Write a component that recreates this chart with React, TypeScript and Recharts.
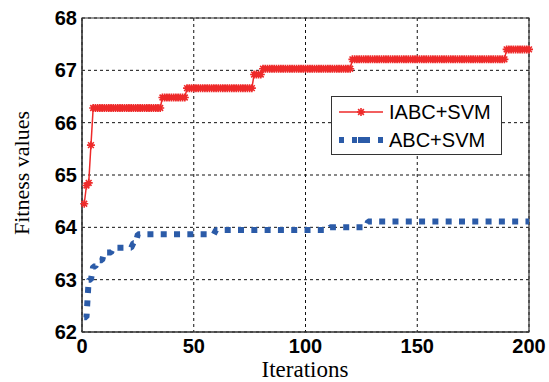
import React from 'react';
import { LineChart, Line, XAxis, YAxis, CartesianGrid, ReferenceArea, Legend, Label } from 'recharts';

const xTicks = [0, 50, 100, 150, 200];
const yTicks = [62, 63, 64, 65, 66, 67, 68];
const maxIter = 200;

// fitness levels: each value holds from the listed iteration on
const iabcSteps = [1, 2, 3, 4, 5, 36, 47, 77, 81, 121, 190];
const iabcValues = [64.45, 64.8, 64.85, 65.57, 66.28, 66.48, 66.66, 66.92, 67.03, 67.21, 67.4];

const abcSteps = [1, 3, 5, 7, 10, 14, 23, 25, 60, 111, 128];
const abcValues = [62.28, 63.0, 63.25, 63.37, 63.52, 63.61, 63.7, 63.87, 63.95, 64.0, 64.11];

const RED = '#ee2a2a';
const BLUE = '#2b5ba8';
const SANS = '"Liberation Sans", Arial, sans-serif';
const SERIF = '"Liberation Serif", "Times New Roman", serif';

const valueAt = (steps: number[], values: number[], it: number) => {
  let v = values[0];
  for (let i = 0; i < steps.length; i++) if (steps[i] <= it) v = values[i];
  return v;
};

const data = Array.from({ length: maxIter }, (_, i) => {
  const it = i + 1;
  return { it, iabc: valueAt(iabcSteps, iabcValues, it), abc: valueAt(abcSteps, abcValues, it) };
});

const starPath = (cx: number, cy: number, r = 4) => {
  const d = r * 0.72;
  return `M${cx - r},${cy}L${cx + r},${cy}M${cx},${cy - r}L${cx},${cy + r}` +
    `M${cx - d},${cy - d}L${cx + d},${cy + d}M${cx - d},${cy + d}L${cx + d},${cy - d}`;
};

const StarDot = (props: any) => {
  const { cx, cy, index } = props;
  if (cx == null || cy == null) return <g key={`s${index}`} />;
  return <path key={`s${index}`} d={starPath(cx, cy)} stroke={RED} strokeWidth={1.6} fill="none" />;
};

const LegendBox = () => (
  <div
    style={{
      width: 171,
      height: 59,
      boxSizing: 'border-box',
      border: '1px solid #333',
      background: '#fff',
      fontFamily: SANS,
      fontSize: 20,
      color: '#000',
      paddingTop: 1,
    }}
  >
    <div style={{ display: 'flex', alignItems: 'center', height: 28, paddingLeft: 7 }}>
      <svg width={44} height={28} style={{ marginRight: 6 }}>
        <line x1={0} y1={14} x2={44} y2={14} stroke={RED} strokeWidth={1.6} />
        <path d={starPath(22, 14)} stroke={RED} strokeWidth={1.6} fill="none" />
      </svg>
      <span>IABC+SVM</span>
    </div>
    <div style={{ display: 'flex', alignItems: 'center', height: 28, paddingLeft: 7 }}>
      <svg width={44} height={28} style={{ marginRight: 6 }}>
        <line x1={0} y1={14} x2={44} y2={14} stroke={BLUE} strokeWidth={6} strokeDasharray="5 8" />
        <rect x={19} y={11} width={7} height={6} fill={BLUE} />
      </svg>
      <span>ABC+SVM</span>
    </div>
  </div>
);

export default function App() {
  return (
    <div style={{ position: 'absolute', left: 0, top: 0, background: '#fff' }}>
      <LineChart width={549} height={382} data={data} margin={{ top: 18, right: 20, left: 0, bottom: 0 }}>
        <CartesianGrid stroke="#111" strokeDasharray="3 3" />
        <XAxis
          dataKey="it"
          type="number"
          domain={[0, 200]}
          ticks={xTicks}
          height={50}
          tickSize={0}
          tickMargin={7}
          axisLine={{ stroke: '#333' }}
          tick={{ fill: '#000', fontFamily: SANS, fontSize: 20, fontWeight: 'bold' }}
        >
          <Label
            content={() => (
              <text x={305} y={377} textAnchor="middle" fontFamily={SERIF} fontSize={23} fill="#000">
                Iterations
              </text>
            )}
          />
        </XAxis>
        <YAxis
          type="number"
          domain={[62, 68]}
          ticks={yTicks}
          width={82}
          tickSize={0}
          tickMargin={5}
          axisLine={{ stroke: '#333' }}
          tick={{ fill: '#000', fontFamily: SANS, fontSize: 20, fontWeight: 'bold' }}
        >
          <Label
            content={() => (
              <text
                x={29}
                y={173}
                transform="rotate(-90 29 173)"
                textAnchor="middle"
                fontFamily={SERIF}
                fontSize={22}
                fill="#000"
              >
                Fitness values
              </text>
            )}
          />
        </YAxis>
        <ReferenceArea x1={0} x2={200} y1={62} y2={68} fill="none" stroke="#333" strokeWidth={1.2} />
        <Line
          dataKey="abc"
          name="ABC+SVM"
          type="linear"
          stroke={BLUE}
          strokeWidth={6}
          strokeDasharray="6 7.3"
          strokeLinejoin="bevel"
          dot={false}
          activeDot={false}
          isAnimationActive={false}
        />
        <Line
          dataKey="iabc"
          name="IABC+SVM"
          type="linear"
          stroke={RED}
          strokeWidth={1.5}
          dot={StarDot}
          activeDot={false}
          isAnimationActive={false}
        />
        <Legend
          layout="vertical"
          align="center"
          verticalAlign="middle"
          content={LegendBox}
          wrapperStyle={{ left: 331, top: 96, width: 171, height: 59 }}
        />
      </LineChart>
    </div>
  );
}
